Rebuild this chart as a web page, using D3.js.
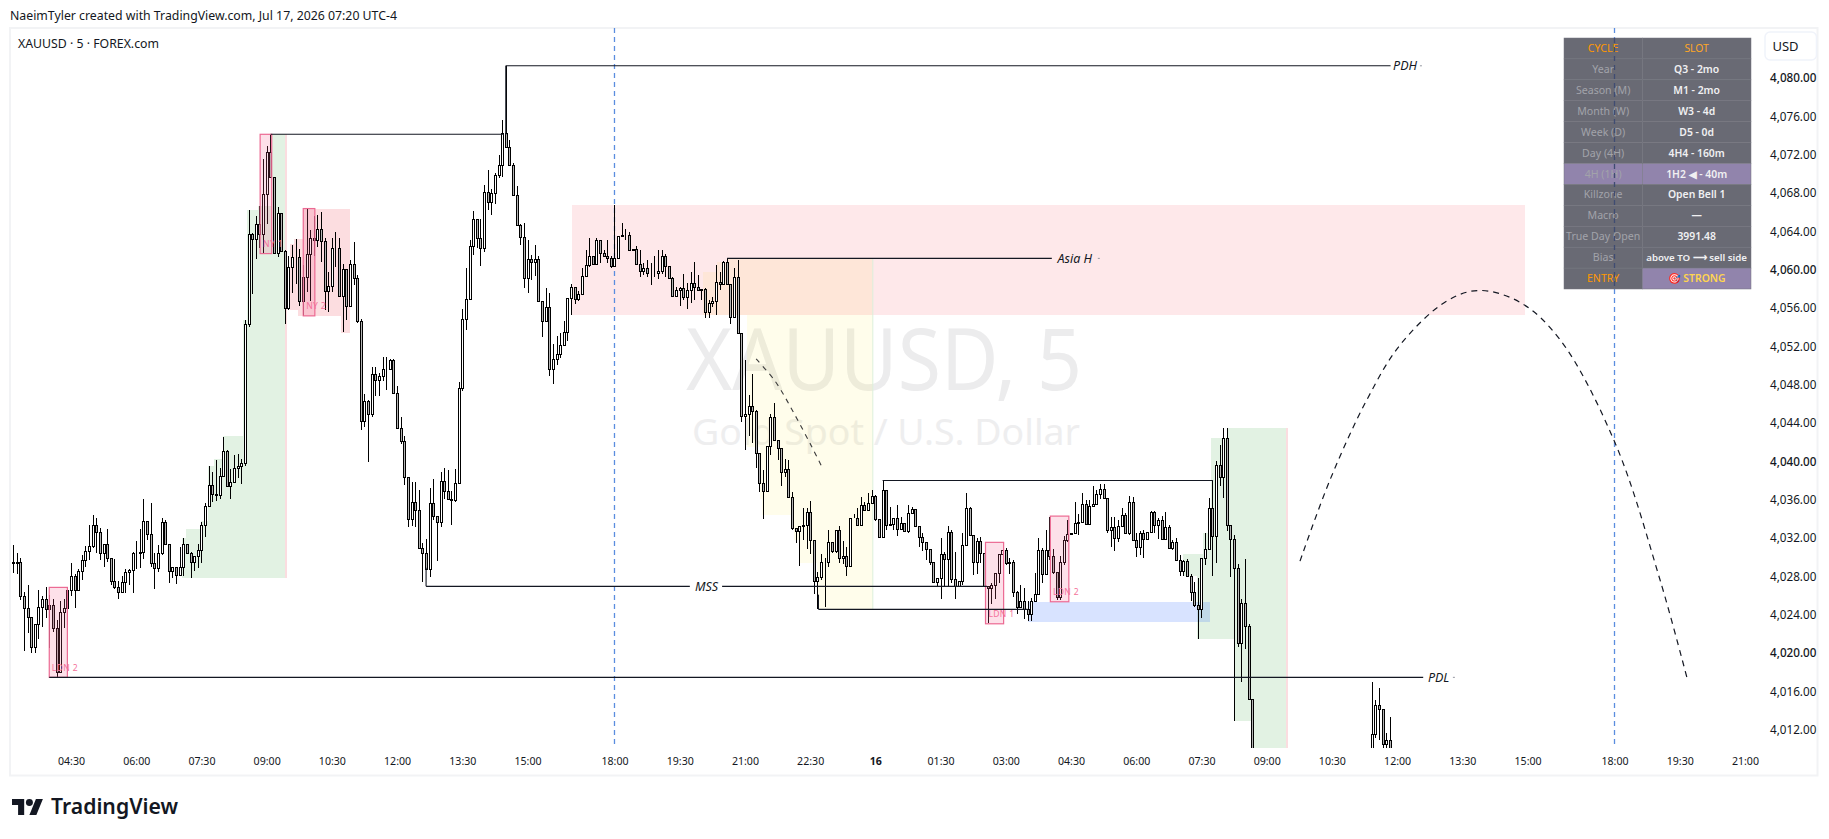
<!DOCTYPE html>
<html><head><meta charset="utf-8"><title>XAUUSD 5</title>
<script src="https://cdn.jsdelivr.net/npm/d3@7"></script>
<style>html,body{margin:0;padding:0;background:#fff}svg{display:block}text{font-family:"Noto Sans","Open Sans",sans-serif}</style>
</head><body><div id="chart"></div>
<script>
// ---------- candles: bar index 0 = 03:10, 5-minute bars; each bar opens at the previous close
const firstOpen = 4029.4;
const closes = [
4029.3,4029.4,4025.9,4024.6,4023.7,4020.5,4022.9,4024.7,4025.6,4024.5,
4024.9,4022.5,4017.9,4024.2,4024.6,4026.5,4027.9,4026.5,4028.5,4029.6,
4030.6,4031.1,4033.3,4032.5,4030.3,4031.3,4029.8,4027.4,4026.8,4026.3,
4027.3,4028.4,4028.6,4030.3,4030.4,4030.5,4033.7,4032.3,4029.3,4028.8,
4030.3,4033.6,4031.3,4028.5,4028.9,4028.1,4028.9,4031.3,4030.3,4029.4,
4030.0,4030.7,4033.3,4035.3,4037.4,4036.5,4036.4,4038.4,4041.0,4037.3,
4037.8,4039.2,4039.4,4039.7,4054.3,4063.6,4063.1,4064.7,4063.6,4067.8,
4072.2,4069.6,4061.7,4065.8,4061.9,4055.9,4060.2,4061.2,4061.2,4056.6,
4059.2,4061.6,4063.2,4063.0,4064.2,4062.9,4057.7,4058.2,4062.2,4062.2,
4057.2,4060.0,4056.1,4060.5,4059.1,4054.6,4044.1,4046.2,4044.9,4049.0,
4048.4,4048.8,4049.6,4049.6,4050.5,4047.0,4043.4,4042.0,4038.3,4033.9,
4035.7,4034.8,4030.9,4030.3,4028.7,4035.6,4034.2,4033.6,4037.9,4036.8,
4036.0,4035.9,4037.7,4047.6,4054.8,4056.9,4062.4,4065.2,4063.2,4062.2,
4068.0,4067.0,4067.9,4069.8,4070.8,4074.2,4072.7,4070.8,4067.7,4064.6,
4063.3,4059.1,4061.0,4060.7,4061.0,4056.7,4054.6,4056.0,4049.6,4050.6,
4051.1,4052.1,4053.4,4057.0,4058.1,4056.9,4057.4,4059.3,4060.4,4061.3,
4060.5,4063.0,4061.7,4061.4,4061.1,4060.3,4061.1,4063.4,4063.5,4063.5,
4062.0,4062.1,4060.5,4059.8,4060.1,4059.6,4059.6,4059.6,4059.8,4061.4,
4060.3,4059.0,4057.2,4057.8,4058.0,4057.1,4057.8,4058.5,4058.1,4057.8,
4057.9,4055.5,4056.4,4056.7,4058.6,4058.4,4060.7,4058.4,4055.0,4059.2,
4053.3,4044.6,4044.9,4045.7,4045.2,4040.8,4037.7,4036.8,4041.5,4044.5,
4042.1,4041.3,4038.8,4039.1,4036.2,4033.0,4032.6,4033.2,4033.3,4034.6,
4031.7,4027.4,4027.8,4029.4,4029.4,4031.5,4030.6,4032.7,4029.8,4030.0,
4029.0,4034.0,4034.0,4033.3,4035.4,4034.8,4035.6,4036.3,4033.9,4032.0,
4036.9,4033.3,4033.4,4034.0,4032.9,4033.5,4032.6,4034.5,4034.9,4033.2,
4032.0,4031.5,4030.8,4029.4,4027.3,4027.7,4030.2,4029.7,4032.5,4027.6,
4026.9,4027.4,4031.2,4035.0,4032.2,4029.4,4031.6,4030.4,4026.9,4026.7,
4027.0,4028.3,4030.2,4030.7,4029.3,4029.4,4026.3,4024.7,4025.3,4024.5,
4024.0,4025.3,4026.1,4030.7,4028.2,4030.7,4030.0,4028.4,4025.8,4029.4,
4031.7,4032.3,4032.4,4033.5,4033.6,4035.5,4033.4,4035.3,4035.5,4036.5,
4037.0,4036.1,4032.7,4033.1,4031.9,4033.2,4034.3,4032.4,4035.7,4031.7,
4031.0,4032.4,4031.8,4032.5,4034.6,4033.3,4033.8,4031.8,4033.1,4030.9,
4031.5,4029.6,4028.5,4029.5,4028.0,4026.3,4024.9,4024.5,4029.8,4030.8,
4035.0,4032.1,4039.5,4038.3,4042.3,4033.3,4031.8,4028.8,4021.0,4025.1,
4022.7,4015.1,4006.0];
const highs = [
4031.2,4030.3,4029.8,4026.3,4027.0,4023.7,4022.9,4026.5,4025.9,4026.8,
4026.0,4025.6,4023.4,4025.3,4025.6,4026.8,4029.3,4028.2,4028.7,4030.1,
4031.1,4033.3,4034.3,4034.0,4033.0,4031.3,4032.9,4029.8,4029.7,4027.4,
4027.9,4028.7,4028.7,4030.5,4031.6,4032.9,4036.0,4033.7,4035.6,4030.3,
4031.2,4034.0,4033.8,4031.3,4028.9,4028.9,4031.0,4031.9,4031.3,4030.5,
4030.0,4031.3,4033.6,4035.6,4039.4,4038.8,4040.1,4039.2,4042.5,4041.1,
4039.1,4040.6,4040.7,4040.2,4054.7,4066.2,4063.7,4065.5,4066.6,4071.5,
4072.8,4074.0,4069.6,4066.5,4065.8,4062.0,4061.3,4062.5,4063.1,4062.1,
4060.4,4066.3,4064.1,4065.5,4065.6,4065.9,4063.2,4059.7,4063.2,4063.9,
4063.2,4060.5,4060.0,4060.9,4062.8,4059.4,4054.8,4046.9,4046.3,4049.8,
4049.8,4049.1,4050.8,4050.8,4050.6,4050.6,4047.8,4044.5,4042.6,4038.3,
4037.8,4037.8,4036.9,4031.4,4031.8,4037.1,4038.1,4034.2,4038.8,4039.2,
4039.0,4036.8,4039.1,4048.2,4055.8,4060.1,4063.0,4066.0,4065.2,4065.2,
4068.8,4070.3,4068.3,4070.0,4071.9,4075.5,4081.2,4073.5,4071.1,4068.7,
4064.7,4064.8,4063.0,4061.5,4062.5,4061.4,4056.7,4058.0,4057.5,4052.2,
4053.0,4053.3,4054.6,4057.0,4058.4,4058.1,4057.7,4060.1,4062.0,4063.2,
4061.4,4063.2,4063.0,4062.0,4063.0,4061.4,4066.7,4063.4,4064.8,4064.2,
4063.9,4062.1,4062.4,4062.0,4060.6,4060.9,4060.6,4061.4,4062.0,4062.0,
4061.6,4060.3,4059.2,4058.1,4058.1,4059.5,4058.5,4059.7,4060.7,4059.4,
4057.9,4058.0,4056.8,4057.1,4060.4,4059.7,4060.8,4061.1,4058.4,4060.1,
4060.9,4053.3,4050.5,4046.8,4049.0,4045.3,4040.8,4039.0,4041.5,4044.9,
4046.0,4042.1,4041.3,4040.2,4040.1,4036.7,4033.0,4033.2,4035.0,4035.0,
4035.8,4031.7,4028.4,4030.2,4029.8,4032.7,4031.5,4032.8,4033.2,4031.6,
4031.0,4034.0,4034.4,4035.0,4036.2,4035.7,4036.6,4036.9,4036.4,4033.9,
4037.9,4036.9,4035.1,4034.0,4035.4,4034.1,4033.5,4035.4,4035.2,4034.9,
4033.2,4032.4,4031.5,4030.8,4029.4,4027.7,4031.9,4030.5,4033.2,4032.7,
4030.5,4027.4,4032.4,4036.6,4035.2,4032.2,4031.9,4032.0,4030.4,4026.9,
4027.2,4028.3,4030.2,4030.7,4030.9,4029.8,4029.6,4026.4,4027.0,4026.7,
4025.3,4025.7,4028.3,4031.9,4030.9,4032.7,4034.1,4030.8,4028.4,4030.0,
4032.1,4033.8,4032.4,4035.7,4034.4,4036.6,4035.9,4035.9,4037.3,4036.9,
4037.5,4037.5,4036.1,4034.1,4034.1,4033.8,4035.0,4034.5,4036.3,4036.2,
4032.4,4032.6,4032.7,4032.5,4034.7,4034.7,4034.0,4034.2,4034.6,4033.3,
4031.7,4031.9,4030.1,4029.6,4029.7,4028.2,4027.3,4027.7,4029.8,4032.4,
4036.1,4037.9,4040.0,4041.6,4043.4,4043.4,4033.3,4032.2,4029.2,4025.6,
4029.7,4022.9,4015.1];
const lows = [
4028.3,4028.2,4025.4,4020.1,4022.0,4019.9,4019.9,4021.4,4022.6,4023.6,
4020.4,4022.1,4017.4,4017.9,4022.5,4022.8,4025.9,4024.6,4026.4,4027.5,
4028.9,4029.6,4030.9,4030.4,4029.6,4028.9,4029.4,4027.0,4026.6,4025.6,
4026.3,4026.2,4027.0,4026.2,4028.7,4028.8,4029.7,4031.7,4028.9,4026.6,
4028.4,4030.1,4031.3,4027.2,4027.7,4027.1,4027.9,4027.9,4030.3,4027.7,
4028.5,4028.8,4029.3,4032.0,4035.3,4035.7,4035.8,4036.0,4038.3,4037.2,
4036.0,4037.8,4038.2,4037.6,4039.4,4053.9,4057.4,4061.0,4062.2,4061.6,
4064.7,4069.6,4061.6,4061.2,4061.8,4054.3,4055.7,4057.5,4058.4,4056.1,
4055.1,4057.6,4056.6,4061.3,4062.3,4060.7,4055.7,4055.5,4057.6,4060.2,
4057.2,4053.4,4054.7,4056.1,4058.3,4054.4,4043.2,4043.5,4039.8,4044.5,
4046.7,4046.7,4048.3,4047.4,4049.5,4047.0,4043.4,4041.7,4037.4,4033.1,
4033.2,4033.1,4030.9,4027.3,4028.7,4027.8,4033.8,4029.5,4033.1,4036.0,
4036.0,4033.3,4035.7,4037.7,4047.3,4053.6,4056.8,4061.5,4062.2,4060.3,
4061.8,4066.1,4065.6,4066.8,4069.5,4069.6,4072.7,4070.7,4067.7,4064.5,
4062.5,4058.0,4057.5,4058.8,4059.3,4056.7,4052.9,4054.6,4048.8,4048.0,
4050.0,4050.7,4052.1,4052.5,4055.2,4056.3,4056.6,4057.3,4059.2,4060.2,
4060.4,4060.5,4060.6,4061.3,4060.6,4060.1,4060.3,4061.1,4063.4,4063.0,
4061.9,4062.0,4060.5,4059.2,4059.4,4059.2,4058.3,4059.2,4058.9,4059.5,
4059.2,4058.9,4057.1,4057.1,4056.1,4056.8,4055.8,4056.4,4056.8,4057.8,
4056.8,4054.9,4054.9,4056.0,4055.2,4057.8,4058.4,4058.4,4054.3,4055.0,
4053.3,4044.0,4041.1,4042.6,4041.8,4039.2,4036.7,4033.9,4036.8,4040.6,
4042.0,4040.1,4037.3,4038.3,4036.2,4032.7,4031.4,4029.0,4031.7,4030.8,
4030.2,4026.1,4024.5,4027.5,4024.7,4028.9,4030.3,4030.3,4029.3,4029.2,
4027.9,4029.0,4034.0,4033.2,4033.3,4034.8,4034.8,4035.5,4033.7,4032.0,
4032.0,4032.8,4033.3,4032.8,4032.1,4032.8,4032.6,4032.4,4034.5,4033.2,
4031.0,4030.6,4029.6,4029.1,4027.2,4026.8,4025.6,4026.9,4026.9,4027.2,
4025.6,4026.9,4027.0,4031.2,4032.2,4028.1,4028.2,4029.3,4026.9,4023.0,
4025.0,4025.6,4027.2,4030.2,4029.1,4028.2,4025.8,4024.0,4024.7,4023.5,
4023.2,4023.3,4025.3,4026.1,4027.2,4028.2,4029.6,4028.2,4025.4,4025.4,
4029.1,4031.5,4032.3,4032.4,4032.2,4033.6,4033.3,4033.3,4035.3,4035.5,
4036.0,4036.1,4032.4,4031.0,4030.6,4031.5,4033.1,4032.4,4032.2,4031.7,
4029.9,4030.1,4029.8,4031.8,4032.5,4032.4,4031.8,4031.8,4031.8,4030.8,
4030.7,4029.6,4028.0,4028.0,4028.0,4025.3,4024.7,4021.4,4023.6,4029.1,
4030.7,4028.0,4029.3,4037.3,4036.1,4032.6,4027.8,4012.8,4020.5,4016.9,
4020.3,4015.1,4005.0];
// the last visible bars, after price left the pane
const lateBars   = [375,376,377,378,379,380];
const lateOpens  = [4007.0,4011.5,4014.5,4014.1,4010.4,4010.8];
const lateCloses = [4011.5,4014.5,4014.1,4010.4,4010.8,4009.0];
const lateHighs  = [4016.9,4015.0,4016.3,4014.1,4011.6,4013.2];
const lateLows   = [4006.0,4011.0,4010.8,4009.0,4009.0,4008.0];

// ---------- axes
const timeBars   = [16,34,52,70,88,106,124,142,166,184,202,220,238,256,274,292,310,328,346,364,382,400,418,442,460,478];
const timeLabels = ["04:30","06:00","07:30","09:00","10:30","12:00","13:30","15:00","18:00","19:30","21:00","22:30","16","01:30","03:00","04:30","06:00","07:30","09:00","10:30","12:00","13:30","15:00","18:00","19:30","21:00"];
const priceTicks = [4080,4076,4072,4068,4064,4060,4056,4052,4048,4044,4040,4036,4032,4028,4024,4020,4016,4012];
const majorPrices = [4080,4060,4040,4020];

// ---------- drawings, in bar / price units: [barFrom, barTo, priceTop, priceBottom]
const greenZones = [
 [46.6,47.7,4031.9,4027.7],[47.7,51.8,4032.9,4027.7],[51.8,53.8,4033.7,4027.7],[53.8,55.5,4039.4,4027.7],
 [55.5,58.0,4040.2,4027.7],[58.0,63.6,4042.6,4027.7],[63.6,64.7,4054.7,4027.7],[64.7,67.7,4066.1,4027.7],
 [67.7,71.4,4066.6,4027.7],[71.4,75.2,4074.05,4027.7],
 [322.8,326.9,4030.2,4027.9],[326.9,328.5,4030.2,4021.4],[328.5,330.7,4032.4,4021.4],[330.7,335.4,4042.4,4021.4],
 [335.4,337.3,4043.4,4021.4],[337.3,342,4043.4,4012.8],[342,351.4,4043.4,4010]];
const redEdges = [[75.2,75.65,4074.05,4027.7],[351.4,351.9,4043.4,4010]];
const pinkZones = [
 [76.4,77.6,4062.6,4055.7],[77.6,78.7,4063.1,4055.7],[78.7,80.1,4063.1,4055.1],[80.1,90.5,4066.3,4055.1],[90.5,93,4066.3,4053.3]];
const yellowZones = [
 [197.1,237.3,4061.1,4060.7],[194.2,237.3,4060.7,4059.7],[190.5,237.3,4059.7,4055.19],
 [202.5,237.3,4055.19,4041.4],[206.1,237.3,4041.4,4036.0],[206.8,237.3,4036.0,4034.3],
 [215.6,237.3,4034.3,4031.7],[217,237.3,4031.7,4029.3],[222,237.3,4029.3,4024.47]];
const supplyZone = [154.3,417.2,4066.67,4055.19];
const blueZone = [280.2,330.4,4025.23,4023.14];
const killBoxes = [
 {label:"LDN 2",from:10.0,to:15.0,top:4026.76,bottom:4017.37,tx:10.7,ty:4018.3},
 {label:"NY 1", from:68.2,to:71.4,top:4074.05,bottom:4061.6,tx:69.0,ty:4062.6},
 {label:"NY 2", from:80.1,to:83.3,top:4066.3,bottom:4055.1,tx:80.9,ty:4056.13},
 {label:"LDN 1",from:268.4,to:273.4,top:4031.46,bottom:4022.96,tx:269.2,ty:4024.0},
 {label:"LDN 2",from:286.3,to:291.4,top:4034.2,bottom:4025.26,tx:287.0,ty:4026.3}];
// [barFrom, priceFrom, barTo, priceTo]
const levelLines = [
 [71.1,4074.05,135.5,4074.05],[136,4081.2,380.2,4081.2],[136,4081.2,136,4074],
 [197.1,4061.1,286.7,4061.1],[10,4017.37,389.2,4017.37],
 [114,4028.8,114,4026.87],[114,4026.87,186.8,4026.87],[195.7,4026.87,268.8,4026.87],
 [222.3,4024.47,222.3,4026],[222.3,4024.47,280,4024.47],[240,4037.91,331.2,4037.91]];
const levelLabels = [{t:"PDH",b:380.9,p:4081.2,end:388.3},{t:"Asia H",b:288.3,p:4061.1,end:299.4},{t:"MSS",b:188.2,p:4026.87},{t:"PDL",b:390.5,p:4017.37,end:397.4}];
const shortCurve = [[205.1,4050.6],[210.3,4048.3],[215.8,4044.75],[220.5,4041.4],[223.3,4039.3]];
const longCurve = [[355.2,4029.5],[363.5,4038.0],[373.6,4046.3],[382.8,4052.05],[395.5,4056.6],[404.6,4057.75],[416,4056.5],[427,4052.6],[442.2,4041.8],[454.6,4027.5],[462.3,4016.9]];
const sessionMarks = [166,442];

// ---------- info table
const cycleLabels = ["CYCLE","Year","Season (M)","Month (W)","Week (D)","Day (4H)","4H (1H)","Killzone","Macro","True Day Open","Bias","ENTRY"];
const slotValues  = ["SLOT","Q3 - 2mo","M1 - 2mo","W3 - 4d","D5 - 0d","4H4 - 160m","1H2 ◀ - 40m","Open Bell 1","—","3991.48","above TO ⟶ sell side","🎯 STRONG"];

// ---------- layout
const W=1829,H=839;
const x=d3.scaleLinear().domain([16,442]).range([71,1614.5]);
const y=d3.scaleLinear().domain([4080,4012]).range([77.3,728.8]);
const px=b=>Math.round(x(b));
const svg=d3.select("#chart").append("svg").attr("width",W).attr("height",H).attr("viewBox",`0 0 ${W} ${H}`);
svg.append("defs").append("clipPath").attr("id","pane").append("rect").attr("x",11).attr("y",28).attr("width",1750).attr("height",720);

// frame
svg.append("rect").attr("x",10).attr("y",28).attr("width",1807.5).attr("height",747.5).attr("fill","#fff").attr("stroke","#f2f3f5").attr("stroke-width",2);
svg.append("text").attr("x",10).attr("y",20).attr("font-size",12.3).attr("fill","#131722").text("NaeimTyler created with TradingView.com, Jul 17, 2026 07:20 UTC-4");
svg.append("text").attr("x",18).attr("y",48).attr("font-size",12.3).attr("fill","#131722").text("XAUUSD · 5 · FOREX.com");

const pane=svg.append("g").attr("clip-path","url(#pane)");

// watermark
pane.append("text").attr("x",686).attr("y",390).attr("font-size",85).attr("textLength",396).attr("lengthAdjust","spacingAndGlyphs").attr("fill","#ececed").text("XAUUSD, 5");
pane.append("text").attr("x",692).attr("y",445).attr("font-size",37).attr("textLength",388).attr("lengthAdjust","spacingAndGlyphs").attr("fill","#eeeeef").text("Gold Spot / U.S. Dollar");

function rects(sel,data,fill){
  sel.append("g").selectAll("rect").data(data).join("rect")
   .attr("x",d=>x(d[0])).attr("width",d=>x(d[1])-x(d[0]))
   .attr("y",d=>y(d[2])).attr("height",d=>y(d[3])-y(d[2]))
   .attr("fill",fill).attr("shape-rendering","crispEdges");
}
rects(pane,yellowZones,"rgba(255,235,59,0.1)");
rects(pane,[supplyZone],"rgba(242,54,69,0.115)");
rects(pane,greenZones,"#e2f2e3");
rects(pane,redEdges,"#fbdde0");
rects(pane,pinkZones,"#fcdde0");
rects(pane,[blueZone],"rgba(41,98,255,0.18)");
// right edge of the yellow zone
pane.append("line").attr("x1",x(237.3)).attr("x2",x(237.3)).attr("y1",y(4061.1)).attr("y2",y(4024.47)).attr("stroke","#dcefdc");

// session markers
pane.selectAll(".sess").data(sessionMarks).join("line").attr("class","sess")
  .attr("x1",d=>x(d)).attr("x2",d=>x(d)).attr("y1",28).attr("y2",748)
  .attr("stroke","#5b8ddf").attr("stroke-width",1.3).attr("stroke-dasharray","5 4");

// candles
const bars=closes.map((c,i)=>({i,o:i?closes[i-1]:firstOpen,c,h:highs[i],l:lows[i]}))
 .concat(lateBars.map((b,k)=>({i:b,o:lateOpens[k],c:lateCloses[k],h:lateHighs[k],l:lateLows[k]})));
const cg=pane.append("g");
cg.selectAll("line").data(bars).join("line")
 .attr("x1",d=>px(d.i)+.5).attr("x2",d=>px(d.i)+.5)
 .attr("y1",d=>Math.round(y(d.h))).attr("y2",d=>Math.round(y(d.l)))
 .attr("stroke","#000").attr("shape-rendering","crispEdges");
cg.selectAll("rect").data(bars).join("rect")
 .attr("x",d=>px(d.i)-.5).attr("width",2)
 .attr("y",d=>Math.round(y(Math.max(d.o,d.c)))+.5)
 .attr("height",d=>Math.max(0,Math.round(y(Math.min(d.o,d.c)))-Math.round(y(Math.max(d.o,d.c)))))
 .attr("fill",d=>d.c>=d.o?"#fff":"#b4b4b4").attr("stroke","#000");

// kill-zone boxes
const kb=pane.append("g").selectAll("g").data(killBoxes).join("g");
kb.append("rect").attr("x",d=>x(d.from)).attr("width",d=>x(d.to)-x(d.from))
 .attr("y",d=>y(d.top)).attr("height",d=>y(d.bottom)-y(d.top))
 .attr("fill","rgba(245,90,140,0.19)").attr("stroke","#ec6a93").attr("stroke-width",1.2);
kb.append("text").attr("x",d=>x(d.tx)).attr("y",d=>y(d.ty)).attr("dy","0.35em").attr("font-size",8.6).attr("letter-spacing",.35)
 .attr("fill","#f4729b").text(d=>d.label);

// level lines
pane.append("g").selectAll("line").data(levelLines).join("line")
 .attr("x1",d=>x(d[0])).attr("y1",d=>y(d[1])).attr("x2",d=>x(d[2])).attr("y2",d=>y(d[3]))
 .attr("stroke","#131722").attr("stroke-width",1.1);
const ll=pane.append("g").selectAll("g").data(levelLabels).join("g");
ll.append("text").attr("x",d=>x(d.b)).attr("y",d=>y(d.p)+4.3).attr("font-size",12.5).attr("font-style","italic").attr("fill","#131722").text(d=>d.t);
ll.filter(d=>d.end).append("line").attr("x1",d=>x(d.end)).attr("x2",d=>x(d.end)+2).attr("y1",d=>y(d.p)).attr("y2",d=>y(d.p)).attr("stroke","#9598a1");

// dashed curves
const curve=d3.line().x(d=>x(d[0])).y(d=>y(d[1])).curve(d3.curveCatmullRom);
pane.append("path").attr("d",curve(shortCurve)).attr("fill","none").attr("stroke","#3a3a3a").attr("stroke-width",1.1).attr("stroke-dasharray","5 5");
pane.append("path").attr("d",curve(longCurve)).attr("fill","none").attr("stroke","#131722").attr("stroke-width",1.2).attr("stroke-dasharray","6 5");

// info table
const rowH=251/12, tx0=1564, tx1=1642.3, tx2=1751, ty0=38;
const rowsData=cycleLabels.map((c,i)=>({c,s:slotValues[i],i}));
const tbl=svg.append("g");
const row=tbl.selectAll("g").data(rowsData).join("g").attr("transform",d=>`translate(0,${ty0+d.i*rowH})`);
row.append("rect").attr("x",tx0).attr("width",tx1-tx0).attr("height",rowH)
 .attr("fill",d=>d.i==6?"rgb(145,132,172)":"#696a74").attr("stroke","#74757f").attr("stroke-width",.5);
row.append("rect").attr("x",tx1).attr("width",tx2-tx1).attr("height",rowH)
 .attr("fill",d=>(d.i==6||d.i==11)?"rgb(145,132,172)":"#696a74").attr("stroke","#74757f").attr("stroke-width",.5);
row.append("text").attr("x",(tx0+tx1)/2).attr("y",rowH/2+3.6).attr("text-anchor","middle").attr("font-size",10.6)
 .attr("fill",d=>(d.i==0||d.i==11)?"#ff9800":"#a2a3aa").text(d=>d.c);
row.append("text").attr("x",(tx1+tx2)/2).attr("y",rowH/2+3.6).attr("text-anchor","middle").attr("font-size",d=>d.i==10?9.7:10.4)
 .attr("font-weight",d=>d.i==0?400:600)
 .attr("fill",d=>d.i==0?"#ffa726":d.i==11?"#ffd54f":"#f0f0f2").text(d=>d.s);
// the second session marker shows through the table as a dark dash
svg.append("line").attr("x1",x(sessionMarks[1])).attr("x2",x(sessionMarks[1])).attr("y1",ty0).attr("y2",ty0+12*rowH)
 .attr("stroke","#3f4c72").attr("stroke-width",1.3).attr("stroke-dasharray","5 4");

// price axis
const yAxis=svg.append("g").attr("transform","translate(1770,0)").call(d3.axisRight(y).tickValues(priceTicks).tickSize(0).tickPadding(0).tickFormat(d3.format(",.2f")));
yAxis.select(".domain").remove();
yAxis.selectAll("text").attr("font-size",11.7).attr("dy","0.4em").attr("font-family",'"Noto Sans"').attr("fill","#131722")
 .attr("font-weight",d=>majorPrices.includes(d)?500:400);

// time axis
const labelByBar=new Map(timeBars.map((b,i)=>[b,timeLabels[i]]));
const xAxis=svg.append("g").attr("transform","translate(0,754)").call(d3.axisBottom(x).tickValues(timeBars).tickSize(0).tickPadding(3).tickFormat(b=>labelByBar.get(b)));
xAxis.select(".domain").remove();
xAxis.selectAll("text").attr("font-size",10.6).attr("font-family",'"Noto Sans"').attr("fill","#131722").attr("font-weight",d=>labelByBar.get(d)=="16"?700:400);

// USD button
svg.append("rect").attr("x",1765).attr("y",32).attr("width",51.5).attr("height",28).attr("rx",5).attr("fill","#fff").attr("stroke","#f0f3fa").attr("stroke-width",1.5);
svg.append("text").attr("x",1785.5).attr("y",51).attr("text-anchor","middle").attr("font-size",13).attr("fill","#131722").text("USD");

// logo
const logo=svg.append("g").attr("transform","translate(12,799) scale(.87)").attr("fill","#131722");
logo.append("path").attr("d","M14 18.5H7V7H0V0h14v18.5zM28 18.5h-8L27.5 0h8L28 18.5z");
logo.append("circle").attr("cx",20).attr("cy",4).attr("r",4);
svg.append("text").attr("x",51).attr("y",814).attr("font-size",21).attr("font-weight",600).attr("font-family","Inter").attr("textLength",127).attr("lengthAdjust","spacingAndGlyphs").attr("fill","#131722").text("TradingView");
</script></body></html>
